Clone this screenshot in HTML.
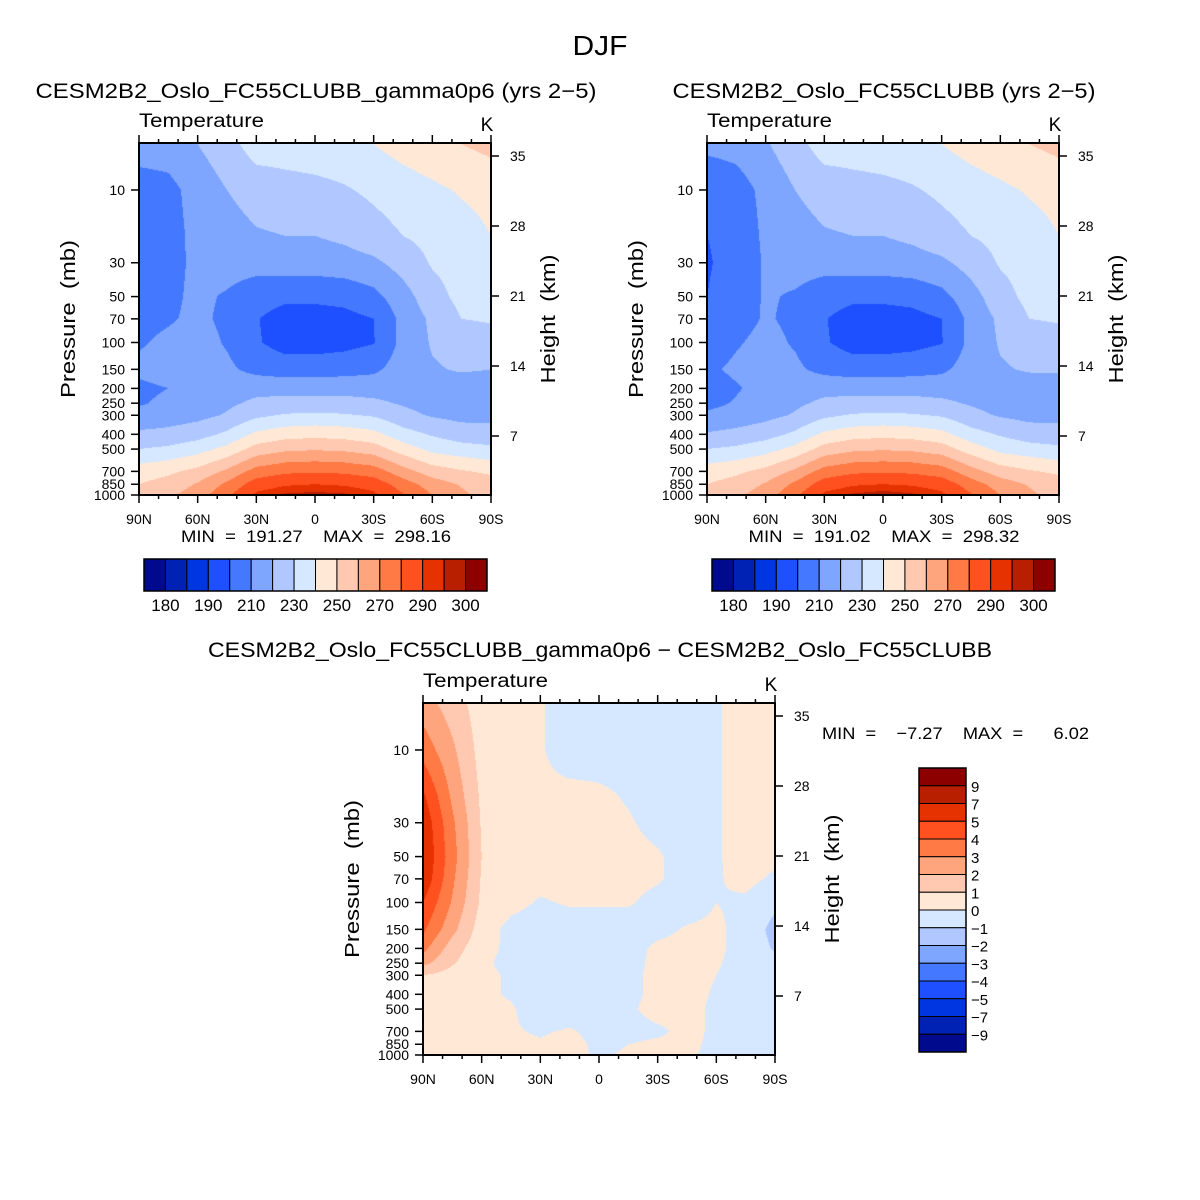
<!DOCTYPE html>
<html><head><meta charset="utf-8"><style>
html,body{margin:0;padding:0;background:#fff;}
#wrap{position:relative;width:1200px;height:1200px;overflow:hidden;font-family:"Liberation Sans",sans-serif;}
canvas{position:absolute;}
svg{position:absolute;left:0;top:0;}
text{white-space:pre;}
</style></head><body>
<div id="wrap">
<canvas id="c1" width="352" height="352" style="left:139px;top:143px"></canvas>
<canvas id="c2" width="352" height="352" style="left:707px;top:143px"></canvas>
<canvas id="c3" width="352" height="352" style="left:423px;top:703px"></canvas>
<svg id="s" width="1200" height="1200"></svg>
</div>
<script>
// ---- data ----
const lats = [90,75,60,45,30,15,0,-15,-30,-45,-60,-75,-90];
const pres = [5,10,20,30,50,70,100,150,200,250,300,400,500,700,850,1000];
const tempLevels = [180,185,190,200,210,220,230,240,250,260,270,280,290,295,300];
const diffLevels = [-9,-7,-5,-4,-3,-2,-1,0,1,2,3,4,5,7,9];
const tempLabels = ["180","190","210","230","250","270","290","300"];
const diffLabels = ["9","7","5","4","3","2","1","0","\u22121","\u22122","\u22123","\u22124","\u22125","\u22127","\u22129"];
const pressTicks = [10,30,50,70,100,150,200,250,300,400,500,700,850,1000];
const heightTicks = [7,14,21,28,35];
const latTicks = [90,60,30,0,-30,-60,-90];
const latTickLabels = ["90N","60N","30N","0","30S","60S","90S"];
const palette = ["#000a8c","#0022b4","#0036e2","#1e50ff","#4479ff","#7ea6ff","#b0c8ff","#d6e8ff","#ffe8d6","#ffc8b0","#ffa57e","#ff7a45","#ff5020","#e63200","#b81e00","#8c0000"];
const tempA = [
[215,215,220,226,235,235,236,237,240,244,247,250,253],
[205,207,214,220,224,226,227,229,232,235,238,241,243],
[206,206,213,216,219,220,220,222,226,230,233,236,240],
[206,207,212,214,214,215,215,216,218,224,231,234,236],
[206,208,212,209,204,202,202,203,207,216,226,233,235],
[207,209,212,208,200.5,196,196,197,200,213,222,230,231],
[209,212,214,209,201,196,196,197,199.5,213,221,224,226],
[212,214,215,212,207,205,205,206,208,215,219,221,220],
[208,210,214,216,217,217,217,217,216,215,215,215,215],
[209,212,215,218,222,223,223,223,222,219,216,215,215],
[213,215,217,221,228,231,232,231,229,223,219,217,217],
[222,223,226,232,242,246,247,246,243,234,229,225,224],
[230,232,236,243,254,258,259,258,255,245,237,234,232],
[245,248,253,262,274,278,279,278,275,264,255,251,248],
[250,254,261,272,285,289,290,289,286,275,265,259,255],
[252,258,265,278,292,296,297,296,292,281,270,262,255]];
const tempB = [
[213,214,219,226,235,235,236,237,240,244,247,250,253],
[201,205,213,220,224,226,227,229,232,235,238,241,243],
[200,203,212,216,219,220,220,222,226,230,233,236,240],
[199,204,211,214,214,215,215,216,218,224,231,234,236],
[200,205,211,209,204,202,202,203,207,216,226,233,235],
[201,206,211,208,200.5,196,196,197,200,213,222,230,231],
[204,209,213,209,201,196,196,197,199.5,213,221,224,226],
[208,212,214,212,207,205,205,206,208,215,219,221,221],
[205,209,214,216,217,217,217,217,216,215,215,215,216],
[207,211,215,218,222,223,223,223,222,219,216,215,216],
[212,214,217,221,228,231,232,231,229,223,219,217,217],
[221,223,226,232,242,246,247,246,243,234,229,225,224],
[230,232,236,243,254,258,259,258,255,245,237,234,232],
[245,248,253,262,274,278,279,278,275,264,255,251,248],
[250,254,261,272,285,289,290,289,286,275,265,259,255],
[252,258,265,278,292,296,298,296,292,281,270,262,255]];
const diffT = [
[2.5,1.5,0.5,0.3,0.1,-0.5,-0.5,-0.5,-0.5,-0.4,-0.1,0.4,0.5],
[3.6,2.2,0.6,0.3,0.1,-0.5,-0.5,-0.5,-0.5,-0.5,-0.1,0.4,0.5],
[5.2,2.8,0.8,0.4,0.2,0.3,0.2,-0.1,-0.5,-0.5,-0.1,0.4,0.5],
[5.8,3.2,0.9,0.4,0.3,0.3,0.3,0.1,-0.3,-0.5,-0.1,0.4,0.5],
[6.0,3.4,1.0,0.4,0.3,0.3,0.4,0.3,0.1,-0.4,-0.1,0.4,0.3],
[5.8,3.2,0.9,0.4,0.3,0.4,0.5,0.3,0.1,-0.4,-0.1,0.3,-0.2],
[5.0,2.9,0.8,0.3,-0.1,0.1,0.1,0.1,-0.3,-0.5,0.0,-0.2,-0.8],
[4.2,2.3,0.5,-0.3,-0.5,-0.5,-0.5,-0.5,-0.3,0.1,0.2,-0.4,-1.3],
[3.3,1.5,0.3,-0.2,-0.5,-0.5,-0.5,-0.4,0.2,0.4,0.2,-0.4,-1.1],
[2.3,1.1,0.2,-0.3,-0.5,-0.5,-0.5,-0.4,0.3,0.4,0.1,-0.4,-0.7],
[1.0,0.6,0.2,-0.1,-0.5,-0.5,-0.5,-0.3,0.3,0.3,0.0,-0.4,-0.5],
[0.5,0.4,0.2,-0.1,-0.5,-0.5,-0.5,-0.3,0.3,0.3,-0.1,-0.4,-0.5],
[0.5,0.4,0.3,0.1,-0.5,-0.5,-0.4,-0.2,0.4,0.3,-0.2,-0.4,-0.5],
[0.5,0.4,0.3,0.1,-0.1,0.1,-0.3,-0.4,-0.2,0.3,-0.2,-0.4,-0.5],
[0.5,0.4,0.3,0.2,0.1,0.3,-0.2,0.0,0.2,0.2,-0.2,-0.3,-0.3],
[0.5,0.4,0.3,0.3,0.3,0.2,-0.1,0.1,0.1,0.1,-0.2,-0.2,-0.2]];

// ---- axis functions (plot 352x352) ----
const W = 352, PTOP = 4.92, PBOT = 1000;
function xOfLat(lat){ return (90 - lat) / 180 * W; }
function yOfP(p){ return (Math.log10(p) - Math.log10(PTOP)) / (Math.log10(PBOT) - Math.log10(PTOP)) * W; }
function pOfY(y){ return Math.pow(10, Math.log10(PTOP) + y / W * (Math.log10(PBOT) - Math.log10(PTOP))); }
function yOfH(h){ return 293 - (h - 7) * 10.0; }
function levelIndex(v, lv){ let k = 0; while (k < lv.length && v >= lv[k]) k++; return k; }
function hex(c){ return [parseInt(c.substr(1,2),16),parseInt(c.substr(3,2),16),parseInt(c.substr(5,2),16)]; }
const rgb = palette.map(hex);

function sample(grid, x, y){
  const lat = 90 - x / W * 180;
  let fi = (90 - lat) / 15; if (fi < 0) fi = 0; if (fi > lats.length - 1) fi = lats.length - 1;
  const lp = Math.log10(pOfY(y));
  let fj = 0;
  if (lp <= Math.log10(pres[0])) fj = 0;
  else if (lp >= Math.log10(pres[pres.length-1])) fj = pres.length - 1;
  else { for (let j = 0; j < pres.length - 1; j++){ const a = Math.log10(pres[j]), b = Math.log10(pres[j+1]); if (lp >= a && lp <= b){ fj = j + (lp - a) / (b - a); break; } } }
  const i0 = Math.min(Math.floor(fi), lats.length - 2), j0 = Math.min(Math.floor(fj), pres.length - 2);
  const tx = fi - i0, ty = fj - j0;
  const v00 = grid[j0][i0], v01 = grid[j0][i0+1], v10 = grid[j0+1][i0], v11 = grid[j0+1][i0+1];
  return (v00*(1-tx) + v01*tx)*(1-ty) + (v10*(1-tx) + v11*tx)*ty;
}
function drawField(id, grid, lv){
  const ctx = document.getElementById(id).getContext('2d');
  const img = ctx.createImageData(W, W);
  for (let y = 0; y < W; y++) for (let x = 0; x < W; x++){
    const c = rgb[levelIndex(sample(grid, x + 0.5, y + 0.5), lv)];
    const o = (y * W + x) * 4; img.data[o]=c[0]; img.data[o+1]=c[1]; img.data[o+2]=c[2]; img.data[o+3]=255;
  }
  ctx.putImageData(img, 0, 0);
}
drawField('c1', tempA, tempLevels);
drawField('c2', tempB, tempLevels);
drawField('c3', diffT, diffLevels);

// ---- SVG overlay ----
const NS = "http://www.w3.org/2000/svg";
const svg = document.getElementById('s');
function el(tag, attrs, parent){ const e = document.createElementNS(NS, tag); for (const k in attrs) e.setAttribute(k, attrs[k]); (parent||svg).appendChild(e); return e; }
function txt(x, y, s, size, anchor, parent, rot, len){
  const t = el('text', {x:x, y:y, 'font-size':size, 'text-anchor':anchor||'middle', fill:'#000', 'font-family':'Liberation Sans, sans-serif'}, parent);
  if (len) { t.setAttribute('textLength', len); t.setAttribute('lengthAdjust', 'spacingAndGlyphs'); }
  if (rot) t.setAttribute('transform', 'rotate(' + rot + ' ' + x + ' ' + y + ')');
  t.textContent = s; return t;
}
function line(x1,y1,x2,y2,parent,w){ return el('line',{x1:x1,y1:y1,x2:x2,y2:y2,stroke:'#000','stroke-width':w||1.5},parent); }

function axes(ox, oy, name){
  const g = el('g', {});
  
  
  el('rect', {x:ox, y:oy, width:W, height:W, fill:'none', stroke:'#000', 'stroke-width':2}, g);
  for (let lat = 90; lat >= -90; lat -= 10){
    const x = ox + xOfLat(lat), major = lat % 30 === 0, L = major ? 8 : 4;
    line(x, oy, x, oy - L, g); line(x, oy + W, x, oy + W + L, g);
  }
  latTicks.forEach((lat, k) => {
    const t = txt(ox + xOfLat(lat), oy + W + 29, latTickLabels[k], 14, 'middle', g);
    
    
  });
  pressTicks.forEach(p => {
    const y = oy + yOfP(p);
    line(ox, y, ox - 8, y, g);
    const t = txt(ox - 14, y + 5, String(p), 14, 'end', g);
    
    
  });
  heightTicks.forEach(h => {
    const y = oy + yOfH(h);
    line(ox + W, y, ox + W + 8, y, g);
    const t = txt(ox + W + 19, y + 5, String(h), 14, 'start', g);
    
    
  });
  const yt = txt(ox - 64, oy + 176, 'Pressure  (mb)', 20, 'middle', g, -90, 158);
  
  
  const ht = txt(ox + W + 64, oy + 176, 'Height  (km)', 20, 'middle', g, -90, 129);
  
  
  const tt = txt(ox, oy - 16, 'Temperature', 19, 'start', g, 0, 125);
  
  
  const ku = txt(ox + W - 4, oy - 12, 'K', 19, 'middle', g);
  
  
}
function hbar(ox, oy, name){
  const g = el('g', {});
  
  
  const bw = 343 / 16;
  palette.forEach((c, k) => { el('rect', {x:ox + k*bw, y:oy, width:bw, height:32, fill:c, stroke:'#000', 'stroke-width':1}, g); });
  el('rect', {x:ox, y:oy, width:343, height:32, fill:'none', stroke:'#000', 'stroke-width':1.5}, g);
  tempLabels.forEach((s, k) => {
    const t = txt(ox + (2*k + 1) * bw, oy + 52, s, 17, 'middle', g);
    
    
  });
}
function vbar(ox, oy, name){
  const g = el('g', {});
  
  
  const bh = 284 / 16;
  palette.slice().reverse().forEach((c, k) => { el('rect', {x:ox, y:oy + k*bh, width:47, height:bh, fill:c, stroke:'#000', 'stroke-width':1}, g); });
  el('rect', {x:ox, y:oy, width:47, height:284, fill:'none', stroke:'#000', 'stroke-width':1.5}, g);
  diffLabels.forEach((s, k) => {
    const t = txt(ox + 52, oy + (k + 1) * bh + 6, s, 15, 'start', g);
    
    
  });
}

const title = txt(600, 55, 'DJF', 28, 'middle', null, 0, 55);



axes(139, 143, 'panel-gamma0p6');
const t1 = txt(316, 98, 'CESM2B2_Oslo_FC55CLUBB_gamma0p6 (yrs 2\u22125)', 21, 'middle', null, 0, 561);


const m1 = txt(316, 542, 'MIN  =  191.27    MAX  =  298.16', 17, 'middle', null, 0, 270);


hbar(144, 559, 'colorbar-gamma0p6');

axes(707, 143, 'panel-control');
const t2 = txt(884, 98, 'CESM2B2_Oslo_FC55CLUBB (yrs 2\u22125)', 21, 'middle', null, 0, 423);


const m2 = txt(884, 542, 'MIN  =  191.02    MAX  =  298.32', 17, 'middle', null, 0, 271);


hbar(712, 559, 'colorbar-control');

axes(423, 703, 'panel-difference');
const t3 = txt(600, 657, 'CESM2B2_Oslo_FC55CLUBB_gamma0p6 \u2212 CESM2B2_Oslo_FC55CLUBB', 21, 'middle', null, 0, 784);


const m3 = txt(822, 739, 'MIN  =    \u22127.27    MAX  =      6.02', 17, 'start', null, 0, 267);


vbar(919, 768, 'colorbar-difference');
</script>
</body></html>
